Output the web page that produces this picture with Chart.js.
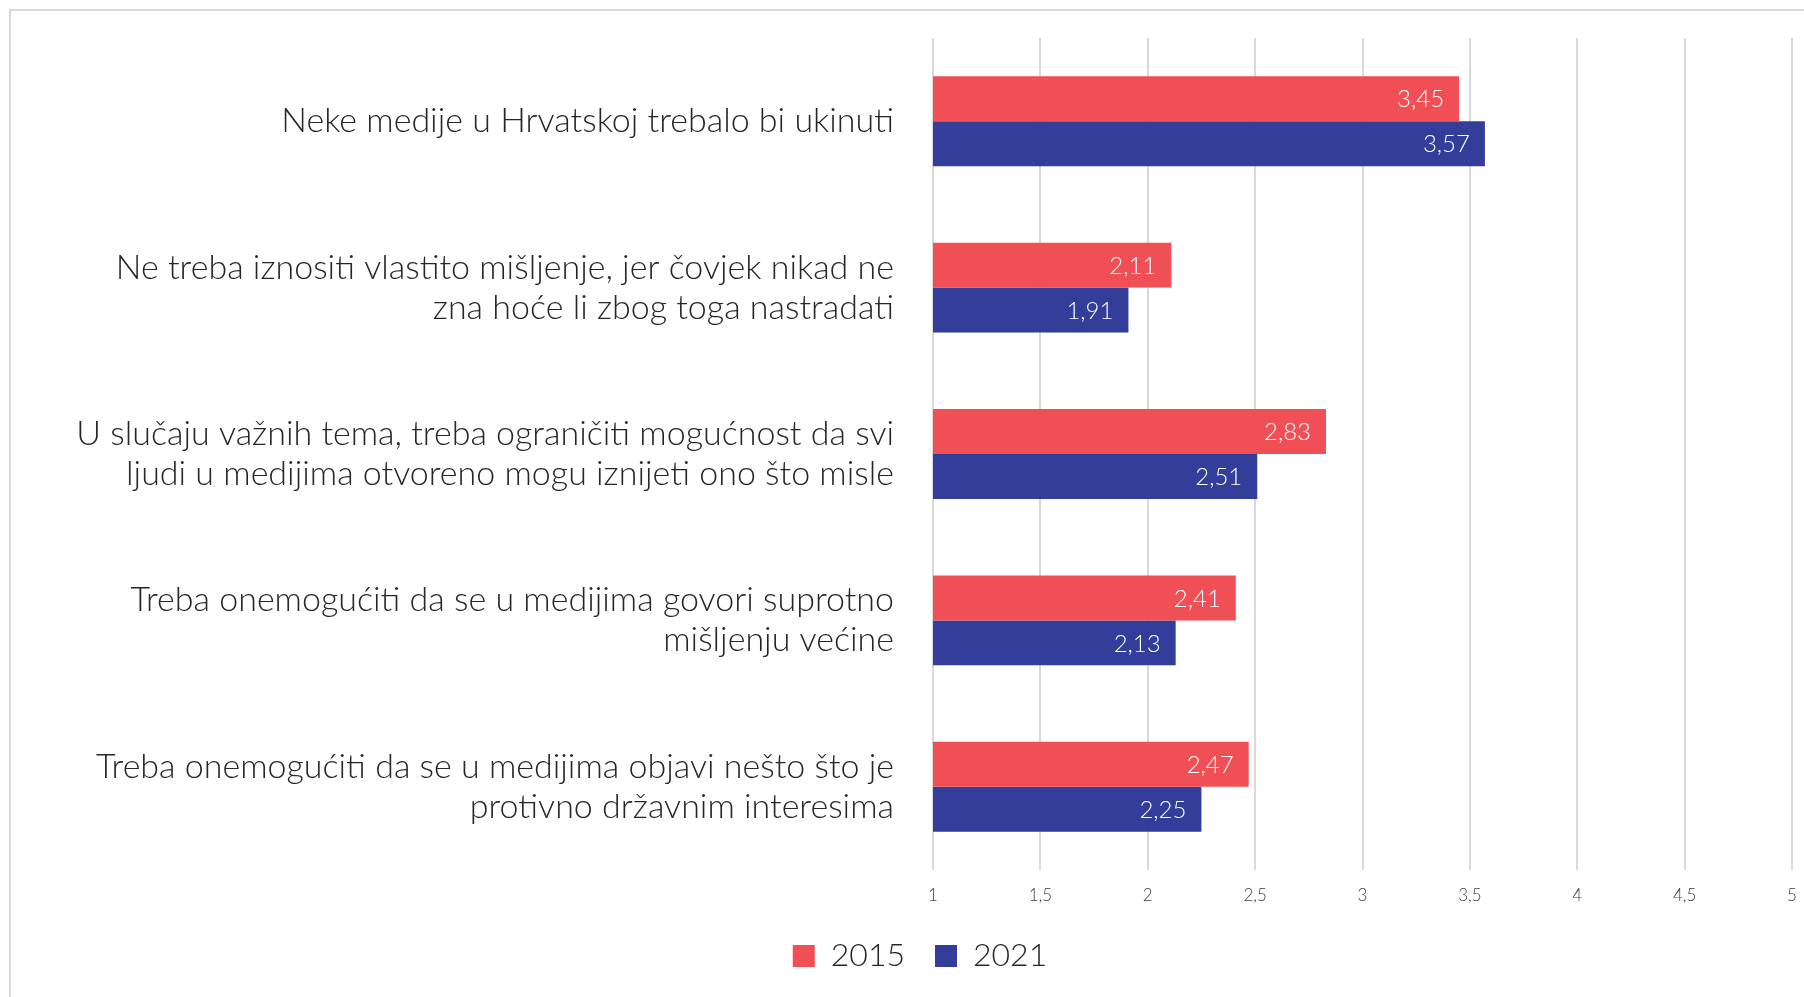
<!DOCTYPE html>
<html lang="hr">
<head>
  <meta charset="UTF-8">
  <title>Stavovi o medijima 2015 / 2021</title>
  <script src="https://cdn.jsdelivr.net/npm/chart.js"></script>
  <style>
    html, body { margin: 0; padding: 0; background: #fff; }
    .wrap {
      position: relative;
      width: 1804px;
      height: 997px;
      overflow: hidden;
    }
    .frame {
      position: absolute;
      left: 9px;
      top: 9px;
      width: 2000px;
      height: 2000px;
      border-left: 2px solid #d9d9d9;
      border-top: 2px solid #d9d9d9;
      pointer-events: none;
    }
    #chart { position: absolute; left: 0; top: 0; }
  </style>
</head>
<body>
  <div class="wrap">
    <canvas id="chart" width="1804" height="997"></canvas>
    <div class="frame"></div>
  </div>

  <script>
    const categories = [
      'Neke medije u Hrvatskoj trebalo bi ukinuti',
      ['Ne treba iznositi vlastito mišljenje, jer čovjek nikad ne', 'zna hoće li zbog toga nastradati'],
      ['U slučaju važnih tema, treba ograničiti mogućnost da svi', 'ljudi u medijima otvoreno mogu iznijeti ono što misle'],
      ['Treba onemogućiti da se u medijima govori suprotno', 'mišljenju većine'],
      ['Treba onemogućiti da se u medijima objavi nešto što je', 'protivno državnim interesima']
    ];
    const values2015 = [3.45, 2.11, 2.83, 2.41, 2.47];
    const values2021 = [3.57, 1.91, 2.51, 2.13, 2.25];
    const xTicks = [1, 1.5, 2, 2.5, 3, 3.5, 4, 4.5, 5];

    const FONT = "Lato, 'Open Sans', sans-serif";
    const fmt = v => String(v).replace('.', ',');

    // vrijednosti unutar stupaca, uz desni rub
    const valueLabels = {
      id: 'valueLabels',
      afterDatasetsDraw(chart) {
        const ctx = chart.ctx;
        ctx.save();
        ctx.font = '300 24px ' + FONT;
        ctx.fillStyle = '#ffffff';
        ctx.textAlign = 'right';
        ctx.textBaseline = 'middle';
        chart.data.datasets.forEach((ds, i) => {
          chart.getDatasetMeta(i).data.forEach((bar, j) => {
            ctx.fillText(fmt(ds.data[j]), bar.x - 15, bar.y + 1);
          });
        });
        ctx.restore();
      }
    };

    const chart = new Chart(document.getElementById('chart'), {
      type: 'bar',
      data: {
        labels: categories,
        datasets: [
          { label: '2015', data: values2015, backgroundColor: '#f05055' },
          { label: '2021', data: values2021, backgroundColor: '#323e99' }
        ]
      },
      options: {
        indexAxis: 'y',
        responsive: false,
        animation: false,
        barPercentage: 1,
        categoryPercentage: 0.54,
        layout: { padding: { left: 48, right: 12, top: 38, bottom: 15 } },
        scales: {
          x: {
            min: 1,
            max: 5,
            afterBuildTicks: s => { s.ticks = xTicks.map(v => ({ value: v })); },
            grid: { color: '#d9d9d9', lineWidth: 2, drawTicks: false },
            border: { display: false },
            ticks: {
              color: '#404040',
              font: { family: FONT, size: 17, weight: 300 },
              padding: 15,
              callback: v => fmt(v)
            },
            afterFit: s => { s.height = 40; s.paddingLeft = 0; s.paddingRight = 0; }
          },
          y: {
            grid: { display: false, drawTicks: false },
            border: { display: false },
            ticks: {
              color: '#262626',
              font: { family: FONT, size: 34, weight: 300, lineHeight: 1.18 },
              padding: 39
            },
            afterFit: s => { s.width = 933 - 48; s.paddingTop = 0; s.paddingBottom = 0; }
          }
        },
        plugins: {
          legend: {
            position: 'bottom',
            labels: {
              color: '#262626',
              font: { family: FONT, size: 32, weight: 300 },
              boxWidth: 22,
              boxHeight: 22,
              padding: 30
            }
          },
          tooltip: { enabled: false }
        }
      },
      plugins: [valueLabels]
    });
  </script>
</body>
</html>
